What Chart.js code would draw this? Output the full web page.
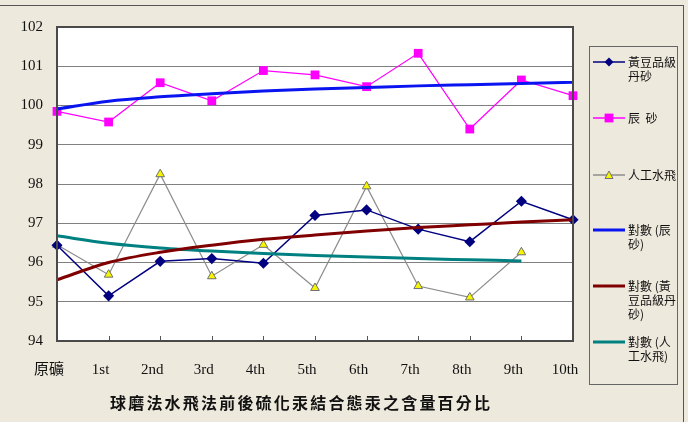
<!DOCTYPE html>
<html lang="zh-Hant">
<head>
    <meta charset="UTF-8">
    <title>硫化汞結合態汞之含量百分比</title>
    <script src="https://cdn.jsdelivr.net/npm/chart.js"></script>
    <style>
        body { margin: 0; background: #eee9dd; }
        .wrap { position: relative; width: 688px; height: 422px; overflow: hidden; }
        .frame { position: absolute; left: -2px; top: 5px; width: 686px; height: 430px;
                 border-top: 1px solid #555; border-right: 1px solid #555; box-sizing: border-box; }
        canvas { position: absolute; left: 0; top: 0; }
        .legend { position: absolute; left: 589px; top: 46px; width: 89px; height: 339px;
                  border: 1px solid #666; box-sizing: border-box; }
        .item { position: absolute; left: 2px; display: flex; align-items: flex-start; }
        .item svg { flex: none; }
        .item span { width: 50px; margin-left: 2px; font: 12px/14px "Noto Sans CJK TC", sans-serif;
                     color: #111; word-break: break-all; white-space: pre-wrap; }
        .title { position: absolute; left: 110px; top: 393px; white-space: nowrap;
                 font: bold 16px/18px "Noto Sans CJK TC", sans-serif; letter-spacing: 2.2px; color: #111; }
    </style>
</head>
<body>
<div class="wrap">
    <div class="frame"></div>
    <canvas id="chart" width="688" height="422"></canvas>
    <div class="legend" id="legend"></div>
    <div class="title" id="title"></div>
</div>
<script>
    // Data
    const categories = ['原礦', '1st', '2nd', '3rd', '4th', '5th', '6th', '7th', '8th', '9th', '10th'];
    const soybeanValues = [96.44, 95.15, 96.03, 96.10, 95.98, 97.20, 97.34, 96.85, 96.53, 97.56, 97.09];
    const cinnabarValues = [99.85, 99.58, 100.58, 100.12, 100.89, 100.78, 100.48, 101.33, 99.40, 100.65, 100.25];
    const waterFlyValues = [96.45, 95.69, 98.25, 95.65, 96.45, 95.35, 97.94, 95.40, 95.11, 96.26, null];
    const cinnabarTrend = [99.91, 100.11, 100.22, 100.30, 100.37, 100.42, 100.46, 100.50, 100.53, 100.56, 100.59];
    const soybeanTrend = [95.56, 96.00, 96.26, 96.44, 96.59, 96.70, 96.80, 96.89, 96.96, 97.03, 97.09];
    const waterFlyTrend = [96.68, 96.49, 96.37, 96.29, 96.23, 96.18, 96.14, 96.10, 96.07, 96.04, null];
    const yTicks = [94, 95, 96, 97, 98, 99, 100, 101, 102];
    const chartTitle = '球磨法水飛法前後硫化汞結合態汞之含量百分比';

    document.getElementById('title').textContent = chartTitle;

    function trend(label, data, color) {
        return {
            label: label, data: data, borderColor: color, backgroundColor: color,
            borderWidth: 3, pointRadius: 0, cubicInterpolationMode: 'monotone',
            order: 0, clip: false
        };
    }

    const datasets = [
        { label: '黃豆品級丹砂', data: soybeanValues, borderColor: '#000080', backgroundColor: '#000080',
          borderWidth: 1.5, pointStyle: 'rectRot', pointRadius: 4.5, pointBorderColor: '#000080',
          pointBackgroundColor: '#000080', order: 1, clip: false },
        { label: '辰  砂', data: cinnabarValues, borderColor: '#ff00ff', backgroundColor: '#ff00ff',
          borderWidth: 1.2, pointStyle: 'rect', pointRadius: 6.2, pointBorderWidth: 0,
          pointBackgroundColor: '#ff00ff', order: 1, clip: false },
        { label: '人工水飛', data: waterFlyValues, borderColor: '#8c8c8c', backgroundColor: '#ffff00',
          borderWidth: 1.2, pointStyle: 'triangle', pointRadius: 5, pointBorderColor: '#707070',
          pointBorderWidth: 1, pointBackgroundColor: '#f5f500', order: 1, clip: false },
        trend('對數 (辰砂)', cinnabarTrend, '#0a14f0'),
        trend('對數 (黃豆品級丹砂)', soybeanTrend, '#800000'),
        trend('對數 (人工水飛)', waterFlyTrend, '#008080')
    ];

    // white plot area, frame and the small inward ticks of the x axis
    const plotFrame = {
        id: 'plotFrame',
        beforeDraw(chart) {
            const a = chart.chartArea, ctx = chart.ctx;
            ctx.save();
            ctx.fillStyle = '#ffffff';
            ctx.fillRect(a.left, a.top, a.right - a.left, a.bottom - a.top);
            ctx.restore();
        },
        afterDraw(chart) {
            const a = chart.chartArea, ctx = chart.ctx, x = chart.scales.x;
            ctx.save();
            ctx.strokeStyle = '#555';
            ctx.lineWidth = 1;
            ctx.beginPath();
            for (let i = 1; i < categories.length - 1; i++) {
                const px = Math.round(x.getPixelForTick(i)) + 0.5;
                ctx.moveTo(px, a.bottom - 5);
                ctx.lineTo(px, a.bottom);
            }
            ctx.stroke();
            ctx.lineWidth = 2;
            ctx.strokeStyle = '#4a4a4a';
            ctx.strokeRect(a.left, a.top, a.right - a.left, a.bottom - a.top);
            ctx.restore();
        }
    };

    const chart = new Chart(document.getElementById('chart'), {
        type: 'line',
        data: { labels: categories, datasets: datasets },
        plugins: [plotFrame],
        options: {
            responsive: false,
            animation: false,
            layout: { padding: { top: 27, right: 115, left: 0, bottom: 0 } },
            plugins: { legend: { display: false }, tooltip: { enabled: false } },
            scales: {
                x: {
                    offset: false,
                    grid: { display: false },
                    border: { display: false },
                    ticks: { color: '#111', padding: 12, labelOffset: -8, maxRotation: 0, autoSkip: false,
                             font: { family: '"Liberation Serif", "Noto Sans CJK TC", serif', size: 15 } },
                    afterFit(scale) { scale.height = 81; }
                },
                y: {
                    min: yTicks[0],
                    max: yTicks[yTicks.length - 1],
                    afterBuildTicks(scale) { scale.ticks = yTicks.map(v => ({ value: v })); },
                    grid: { color: '#808080', lineWidth: 1, drawTicks: false },
                    border: { display: false },
                    ticks: { color: '#111', padding: 14,
                             font: { family: '"Liberation Serif", serif', size: 15 } },
                    afterFit(scale) { scale.width = 57; }
                }
            }
        }
    });

    // legend built from the datasets
    const legendTops = [54, 110, 167, 222, 278, 334];
    const legend = document.getElementById('legend');
    const NS = 'http://www.w3.org/2000/svg';
    datasets.forEach((ds, i) => {
        const item = document.createElement('div');
        item.className = 'item';
        item.style.top = (legendTops[i] - 46) + 'px';
        const svg = document.createElementNS(NS, 'svg');
        svg.setAttribute('width', 34);
        svg.setAttribute('height', 14);
        const line = document.createElementNS(NS, 'line');
        line.setAttribute('x1', 1); line.setAttribute('x2', 33);
        line.setAttribute('y1', 7); line.setAttribute('y2', 7);
        line.setAttribute('stroke', ds.borderColor);
        line.setAttribute('stroke-width', ds.pointRadius ? Math.max(ds.borderWidth, 1.5) : 3);
        svg.appendChild(line);
        let mark = null;
        if (ds.pointStyle === 'rectRot') {
            mark = document.createElementNS(NS, 'polygon');
            mark.setAttribute('points', '17,2.5 21.5,7 17,11.5 12.5,7');
        } else if (ds.pointStyle === 'rect') {
            mark = document.createElementNS(NS, 'rect');
            mark.setAttribute('x', 12.6); mark.setAttribute('y', 2.6);
            mark.setAttribute('width', 8.8); mark.setAttribute('height', 8.8);
        } else if (ds.pointStyle === 'triangle') {
            mark = document.createElementNS(NS, 'polygon');
            mark.setAttribute('points', '17,3 21,10.5 13,10.5');
            mark.setAttribute('stroke', ds.pointBorderColor);
            mark.setAttribute('stroke-width', 1);
        }
        if (mark) {
            mark.setAttribute('fill', ds.pointBackgroundColor);
            svg.appendChild(mark);
        }
        const text = document.createElement('span');
        text.textContent = ds.label;
        item.appendChild(svg);
        item.appendChild(text);
        legend.appendChild(item);
    });
</script>
</body>
</html>
